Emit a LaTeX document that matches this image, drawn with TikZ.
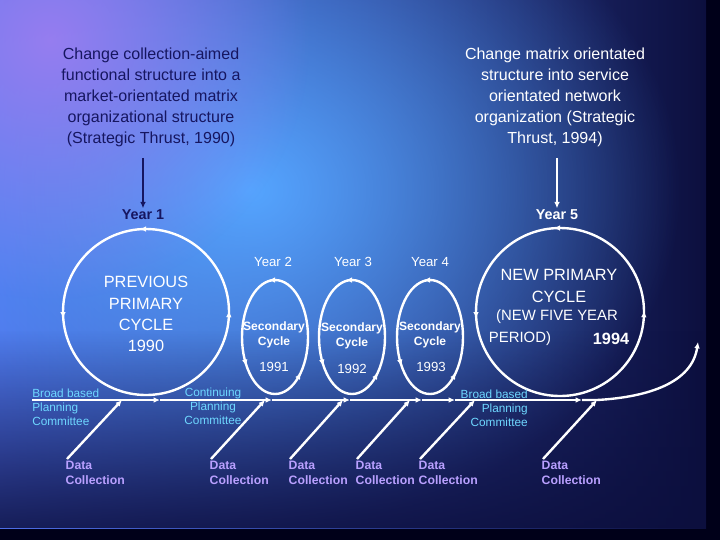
\documentclass[tikz,border=0pt]{standalone}
\usepackage{fontspec}
\setmainfont{Liberation Sans}
\usetikzlibrary{arrows.meta,decorations.markings,fadings}

\definecolor{navytext}{RGB}{22,22,96}
\definecolor{cyantext}{RGB}{110,215,255}
\definecolor{lavtext}{RGB}{185,160,255}
\definecolor{bgleft}{RGB}{78,110,232}
\definecolor{bgright}{RGB}{12,15,62}
\definecolor{glow}{RGB}{85,165,255}
\definecolor{violetglow}{RGB}{150,125,240}

\tikzfading[name=glowfade, inner color=transparent!0, outer color=transparent!100]
\tikzfading[name=bottomfade, top color=transparent!100, bottom color=transparent!15]

\tikzstyle{flow} = [white, line width = 1.7pt, ->]
\tikzstyle{bigloop} = [white, line width = 1.7pt, postaction = {decorate},
    decoration = {markings, mark = at position 0.01 with {\arrow{<}},
    mark = at position 0.5 with {\arrow{<}}, mark = at position 0.75 with {\arrow{<}}}]
\tikzstyle{smallloop} = [white, line width = 1.7pt, postaction = {decorate},
    decoration = {markings, mark = at position 0.15 with {\arrow{<}},
    mark = at position 0.42 with {\arrow{<}}, mark = at position 0.75 with {\arrow{<}}}]
\tikzstyle{thrust} = [align = center, inner sep = 0pt, font = \fontsize{11.4}{14.9}\selectfont]
\tikzstyle{yearmain} = [inner sep = 1pt, font = \fontsize{10.2}{12}\selectfont\bfseries]
\tikzstyle{yearsub} = [white, inner sep = 1pt, font = \fontsize{9.4}{11}\selectfont]
\tikzstyle{primary} = [white, align = center, inner sep = 0pt, font = \fontsize{11.6}{15}\selectfont]
\tikzstyle{secondary} = [white, align = center, inner sep = 0pt, font = \fontsize{8.6}{10.6}\selectfont\bfseries]
\tikzstyle{committee} = [cyantext, inner sep = 0pt, font = \fontsize{8.4}{10}\selectfont]
\tikzstyle{datalab} = [lavtext, align = left, inner sep = 1pt, anchor = north west, font = \fontsize{8.7}{10.6}\selectfont\bfseries]

\begin{document}
\begin{tikzpicture}[x = 0.025cm, y = -0.025cm, >={Latex[length=4.5pt, width=4pt]}]
    \useasboundingbox (0, 0) rectangle (720, 540);
    % background
    \fill[black!90!blue] (0, 0) rectangle (720, 540);
    \begin{scope}
        \clip (0, 0) rectangle (706, 528);
        \shade[left color = bgleft, right color = bgright] (0, 0) rectangle (706, 528);
        \fill[glow, path fading = glowfade] (250, 190) ellipse [x radius = 430, y radius = 340];
        \fill[violetglow, path fading = glowfade] (50, 40) circle [radius = 260];
        \fill[bgright, path fading = bottomfade] (0, 330) rectangle (706, 528);
    \end{scope}

    % strategic thrusts
    \node (thrust1) [thrust, navytext] at (151, 97) {Change collection-aimed\\functional structure into a\\market-orientated matrix\\organizational structure\\(Strategic Thrust, 1990)};
    \node (thrust2) [thrust, white] at (555, 97) {Change matrix orientated\\structure into service\\orientated network\\organization (Strategic\\Thrust, 1994)};
    \node (year1) [yearmain, navytext] at (143, 215) {Year 1};
    \node (year5) [yearmain, white] at (557, 215) {Year 5};
    \draw [navytext, line width = 1.4pt, ->, shorten < = 8pt] (year1.north |- thrust1.south) -- (year1);
    \draw [white, line width = 1.4pt, ->, shorten < = 8pt] (year5.north |- thrust2.south) -- (year5);

    % primary cycles
    \coordinate (prev) at (146, 312);
    \coordinate (new) at (560, 312);
    \draw [bigloop] (prev) circle [radius = 83];
    \draw [bigloop] (new) circle [radius = 84];
    \node (prevtext) [primary] at (146, 314) {PREVIOUS\\PRIMARY\\CYCLE\\1990};
    \node (newtext) [primary] at (559, 286) {NEW PRIMARY\\CYCLE};
    \node (newperiod) [primary, font = \fontsize{10.6}{13}\selectfont] at (557, 317) {(NEW FIVE YEAR};
    \node (newperiodb) [primary, font = \fontsize{10.6}{13}\selectfont] at (520, 339) {PERIOD)};
    \node (newyear) [primary, font = \fontsize{11.6}{13}\selectfont\bfseries] at (611, 339) {1994};

    % secondary cycles
    \draw [smallloop] (275, 337) ellipse [x radius = 33, y radius = 57];
    \draw [smallloop] (352, 337) ellipse [x radius = 33, y radius = 57];
    \draw [smallloop] (430, 337) ellipse [x radius = 33, y radius = 57];
    \node (year2) [yearsub] at (273, 262) {Year 2};
    \node (year3) [yearsub] at (353, 262) {Year 3};
    \node (year4) [yearsub] at (430, 262) {Year 4};
    \node (sec2) [secondary] at (274, 335) {Secondary\\Cycle};
    \node (sec3) [secondary] at (352, 336) {Secondary\\Cycle};
    \node (sec4) [secondary] at (430, 335) {Secondary\\Cycle};
    \node (date2) [yearsub] at (274, 367) {1991};
    \node (date3) [yearsub] at (352, 369) {1992};
    \node (date4) [yearsub] at (431, 367) {1993};

    % time line
    \coordinate (t0) at (32, 400);
    \coordinate (p1) at (122, 400);
    \coordinate (m1) at (160, 400);
    \coordinate (p2) at (265, 400);
    \coordinate (m2) at (272, 400);
    \coordinate (p3) at (343, 400);
    \coordinate (m3) at (350, 400);
    \coordinate (p4) at (410, 400);
    \coordinate (m4) at (422, 400);
    \coordinate (m5) at (455, 400);
    \coordinate (p5) at (475, 400);
    \coordinate (m6) at (582, 400);
    \coordinate (p6) at (597, 400);
    \coordinate (tend) at (698, 342);
    \draw [flow] (t0) -- (m1);
    \draw [flow] (m1) -- (m2);
    \draw [flow] (m2) -- (m3);
    \draw [flow] (m3) -- (m4);
    \draw [flow] (m4) -- (m5);
    \draw [flow] (m5) -- (m6);
    \draw [flow] (m6) -- (p6) .. controls (650, 397) and (692, 382) .. (tend);

    % planning committees
    \node (broad1) [committee, align = left, anchor = west] at (32, 407) {Broad based\\Planning\\Committee};
    \node (cont) [committee, align = center] at (213, 406) {Continuing\\Planning\\Committee};
    \node (broad2) [committee, align = right, anchor = east] at (528, 408) {Broad based\\Planning\\Committee};

    % data collection
    \node (data1) [datalab] at (64, 459) {Data\\Collection};
    \node (data2) [datalab] at (208, 459) {Data\\Collection};
    \node (data3) [datalab] at (287, 459) {Data\\Collection};
    \node (data4) [datalab] at (354, 459) {Data\\Collection};
    \node (data5) [datalab] at (417, 459) {Data\\Collection};
    \node (data6) [datalab] at (540, 459) {Data\\Collection};
    \draw [flow] (data1.north west) ++(3, 0) -- (p1);
    \draw [flow] (data2.north west) ++(3, 0) -- (p2);
    \draw [flow] (data3.north west) ++(3, 0) -- (p3);
    \draw [flow] (data4.north west) ++(3, 0) -- (p4);
    \draw [flow] (data5.north west) ++(3, 0) -- (p5);
    \draw [flow] (data6.north west) ++(3, 0) -- (p6);
\end{tikzpicture}
\end{document}
